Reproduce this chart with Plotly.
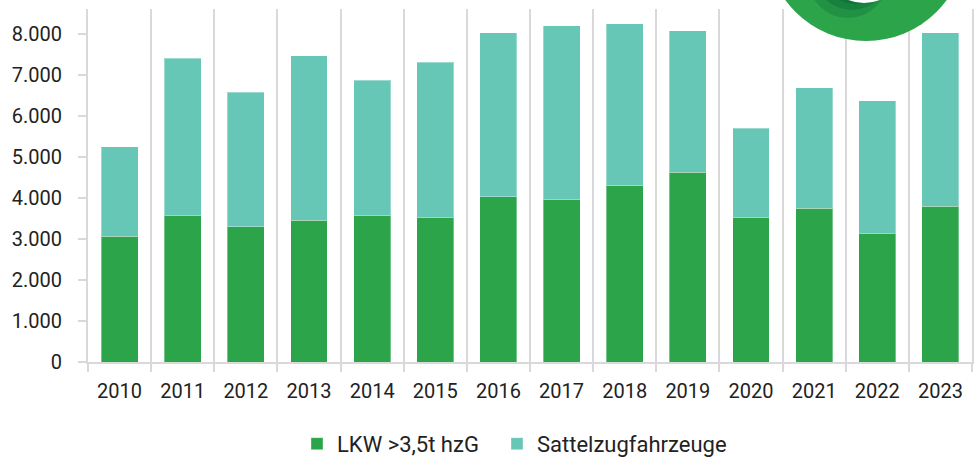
import plotly.graph_objects as go

years = [2010, 2011, 2012, 2013, 2014, 2015, 2016, 2017, 2018, 2019, 2020, 2021, 2022, 2023]
lkw = [3066, 3578, 3293, 3456, 3578, 3522, 4024, 3968, 4293, 4627, 3522, 3749, 3139, 3798]
sattel = [2178, 3822, 3285, 4007, 3283, 3780, 3993, 4220, 3944, 3446, 2171, 2934, 3220, 4219]
y_ticks = [0, 1000, 2000, 3000, 4000, 5000, 6000, 7000, 8000]

GREEN = "#2ca44a"
TEAL = "#67c7b7"
GRID = "#d9d9d9"
FONT = "Roboto"

fig = go.Figure()
fig.add_trace(go.Bar(x=years, y=lkw, name="LKW >3,5t hzG", legend="legend",
                     marker=dict(color=GREEN, line=dict(color="rgba(255,255,255,0.35)", width=1))))
fig.add_trace(go.Bar(x=years, y=sattel, name="Sattelzugfahrzeuge", legend="legend2",
                     marker=dict(color=TEAL, line=dict(color="rgba(255,255,255,0.35)", width=1))))

W, H = 975, 459
L, R, T, B = 88, 3, 9, 97
pw, ph = W - L - R, H - T - B

def px(xp):
    return (xp - L) / pw

def py(yp):
    return 1 - (yp - T) / ph

# decorative logo circle in top-right corner
cx, cy, r = 866, -59, 100
fig.add_shape(type="circle", xref="paper", yref="paper",
              x0=px(cx - r), x1=px(cx + r), y0=py(cy + r), y1=py(cy - r),
              fillcolor=GREEN, line=dict(width=0), layer="above")
for (ex, ey, er, op) in [(848, -22, 40, 0.3), (852, -28, 38, 0.4), (856, -33, 37, 0.5)]:
    fig.add_shape(type="circle", xref="paper", yref="paper",
                  x0=px(ex - er), x1=px(ex + er), y0=py(ey + er), y1=py(ey - er),
                  fillcolor="#0a6a35", opacity=op, line=dict(width=0), layer="above")
wx, wy, wr = 864, -40, 43
fig.add_shape(type="circle", xref="paper", yref="paper",
              x0=px(wx - wr), x1=px(wx + wr), y0=py(wy + wr), y1=py(wy - wr),
              fillcolor="white", line=dict(width=0), layer="above")

leg_common = dict(orientation="h", xref="container", yref="container",
                  xanchor="left", y=0.033, yanchor="middle",
                  font=dict(family=FONT, size=22, color="#222222"),
                  itemwidth=30, bgcolor="rgba(0,0,0,0)")

fig.update_layout(
    width=W, height=H,
    margin=dict(l=L, r=R, t=T, b=B, autoexpand=False),
    barmode="stack",
    bargap=0.415,
    plot_bgcolor="white",
    paper_bgcolor="white",
    separators=",.",
    font=dict(family=FONT, size=20, color="#222222"),
    showlegend=True,
    legend=dict(x=(310 - 13) / W, **leg_common),
    legend2=dict(x=(510 - 13) / W, **leg_common),
    xaxis=dict(
        range=[2009.5, 2023.5], automargin=False,
        tickmode="array", tickvals=years, ticktext=[str(y) for y in years],
        ticks="", showgrid=False, zeroline=False,
        showline=True, linecolor=GRID, linewidth=2,
        ticklabelstandoff=10,
        minor=dict(tick0=2009.5, dtick=1, showgrid=True, gridcolor=GRID, gridwidth=2,
                   ticks="outside", ticklen=8, tickcolor=GRID, tickwidth=2),
    ),
    yaxis=dict(
        range=[0, 8600], automargin=False,
        tickmode="array", tickvals=y_ticks, tickformat=",d",
        ticks="outside", ticklen=8, tickcolor=GRID, tickwidth=2,
        showgrid=False, zeroline=False,
        showline=True, linecolor=GRID, linewidth=2, mirror=True,
        ticklabelstandoff=12,
    ),
)

fig.write_html("out.html", config={"displayModeBar": False},
               post_script="document.body.style.margin='0';document.body.style.overflow='hidden';")
